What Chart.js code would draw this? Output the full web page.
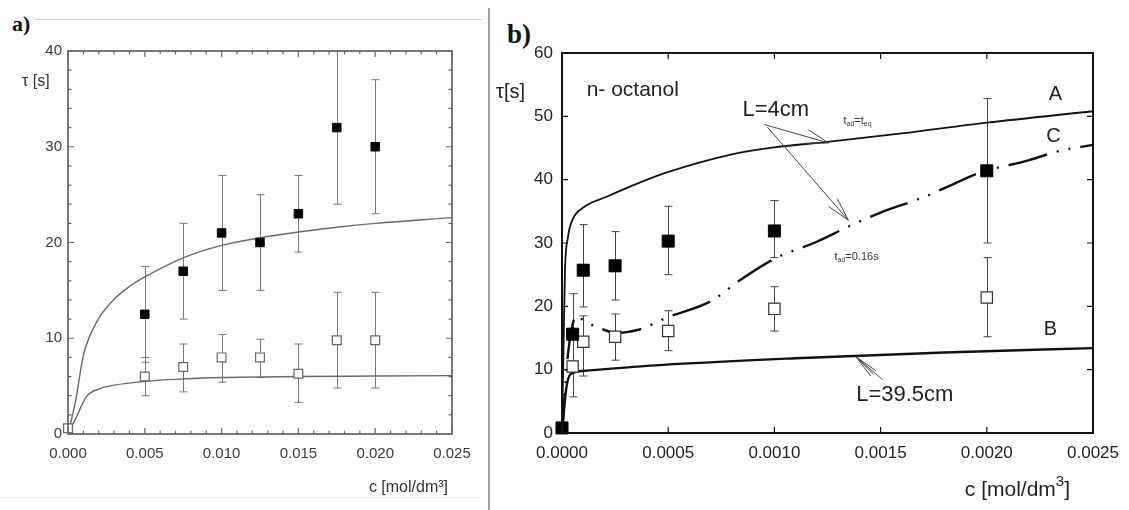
<!DOCTYPE html>
<html>
<head>
<meta charset="utf-8">
<script src="https://cdn.jsdelivr.net/npm/chart.js@4"></script>
<style>
  body { margin: 0; background: #fff; width: 1129px; height: 510px; overflow: hidden; position: relative; }
  canvas { position: absolute; top: 0; }
  #chartA { left: 0; }
  #chartB { left: 490px; }
  .panel { position: absolute; font-family: "Liberation Serif", "Times New Roman", serif; font-weight: bold; color: #111; line-height: 1; }
  .rule { position: absolute; }
</style>
</head>
<body>
<div class="rule" style="left:35px;top:19px;width:447px;height:1px;background:#d0d0d0"></div>
<div class="rule" style="left:0;top:497px;width:482px;height:1px;background:#eeeeee"></div>
<div class="rule" style="left:488px;top:8px;width:2px;height:502px;background:#a0a0a0"></div>
<div class="panel" style="left:12px;top:13px;font-size:22px">a)</div>
<div class="panel" style="left:507px;top:21px;font-size:27px">b)</div>
<canvas id="chartA" width="487" height="510"></canvas>
<canvas id="chartB" width="639" height="510"></canvas>
<script>
// ---------- panel a ----------
const concA = [0.005, 0.0075, 0.010, 0.0125, 0.015, 0.0175, 0.020];
const tauFilledA = [12.5, 17, 21, 20, 23, 32, 30];
const lowFilledA = [7.5, 12, 15, 15, 19, 24, 23];
const highFilledA = [17.5, 22, 27, 25, 27, 40, 37];

const concOpenA = [0, 0.005, 0.0075, 0.010, 0.0125, 0.015, 0.0175, 0.020];
const tauOpenA = [0.6, 6, 7, 8, 8, 6.3, 9.8, 9.8];
const lowOpenA = [0.6, 4, 4.4, 5.4, 5.9, 3.3, 4.8, 4.8];
const highOpenA = [0.6, 8, 9.4, 10.4, 9.9, 9.4, 14.8, 14.8];

const concUpperA = [0, 0.0005, 0.001, 0.0018, 0.0029, 0.004, 0.005, 0.0075, 0.010, 0.0125, 0.015, 0.0175, 0.020, 0.025];
const tauUpperA = [0, 3.5, 8.2, 11.5, 13.9, 15.4, 16.4, 18.4, 19.7, 20.5, 21.1, 21.6, 22.0, 22.6];
const concLowerA = [0, 0.0005, 0.0012, 0.002, 0.003, 0.005, 0.0075, 0.010, 0.015, 0.020, 0.025];
const tauLowerA = [0, 1.6, 3.9, 4.7, 5.1, 5.5, 5.75, 5.9, 6.0, 6.05, 6.1];

const xMajorA = [0, 0.005, 0.010, 0.015, 0.020, 0.025];
const xMinorA = [0.001, 0.002, 0.003, 0.004, 0.006, 0.007, 0.008, 0.009, 0.011, 0.012, 0.013, 0.014,
                 0.016, 0.017, 0.018, 0.019, 0.021, 0.022, 0.023, 0.024];
const yMajorA = [0, 10, 20, 30, 40];
const yMinorA = [2, 4, 6, 8, 12, 14, 16, 18, 22, 24, 26, 28, 32, 34, 36, 38];

// ---------- panel b ----------
const concFilledB = [0, 0.00005, 0.0001, 0.00025, 0.0005, 0.001, 0.002];
const tauFilledB = [0.8, 15.6, 25.7, 26.4, 30.3, 31.9, 41.4];
const lowFilledB = [0.8, 15.6, 19.9, 21, 25, 27.7, 30];
const highFilledB = [0.8, 15.6, 32.9, 31.8, 35.8, 36.7, 52.8];

const concOpenB = [0.00005, 0.0001, 0.00025, 0.0005, 0.001, 0.002];
const tauOpenB = [10.5, 14.4, 15.2, 16.1, 19.6, 21.4];
const lowOpenB = [5.7, 9, 11.5, 13, 16.1, 15.2];
const highOpenB = [22, 18.5, 18.8, 19.3, 23.1, 27.7];

const concCurveA = [0, 0.000008, 0.000014, 0.000028, 0.00005, 0.0001, 0.00021, 0.00032, 0.00049, 0.0008, 0.001, 0.00126, 0.0016, 0.002, 0.0025];
const tauCurveA = [0, 15, 25.6, 30.9, 33.7, 35.6, 37.3, 38.9, 41.1, 44.0, 45.1, 46.0, 47.3, 49.0, 50.8];
const concCurveB = [0, 0.00002, 0.00004, 0.0001, 0.0004, 0.0011, 0.0018, 0.0025];
const tauCurveB = [0, 7, 9.3, 9.8, 10.6, 11.8, 12.7, 13.4];
const concCurveC = [0, 0.00003, 0.00007, 0.0001, 0.00016, 0.00026, 0.00036, 0.0005, 0.0007, 0.00085, 0.001, 0.0012,
                    0.00135, 0.0015, 0.0017, 0.00183, 0.00196, 0.0022, 0.00235, 0.0025];
const tauCurveC = [0, 13, 18.5, 17.8, 16.8, 15.8, 16.3, 18.3, 20.8, 24.4, 27.5, 30.2, 32.6, 34.8, 37.2, 39.1, 41, 43.1, 44.6, 45.5];

const xMajorB = [0, 0.0005, 0.0010, 0.0015, 0.0020, 0.0025];
const yMajorB = [0, 10, 20, 30, 40, 50, 60];

const pts = (xs, ys) => xs.map((x, i) => ({x: x, y: ys[i]}));

Chart.defaults.font.family = '"Liberation Sans", Arial, Helvetica, sans-serif';

// draws vertical error bars from errLow / errHigh
const errorBars = {
  id: 'errorBars',
  beforeDatasetsDraw(chart) {
    const {ctx, scales: {x, y}} = chart;
    ctx.save();
    chart.data.datasets.forEach(ds => {
      if (!ds.errLow) return;
      ctx.strokeStyle = ds.errColor;
      ctx.lineWidth = 1;
      ds.data.forEach((p, i) => {
        const px = Math.round(x.getPixelForValue(p.x)) + 0.5;
        const y1 = y.getPixelForValue(ds.errLow[i]);
        const y2 = y.getPixelForValue(ds.errHigh[i]);
        if (Math.abs(y1 - y2) < 1) return;
        ctx.beginPath();
        ctx.moveTo(px, y1); ctx.lineTo(px, y2);
        ctx.moveTo(px - ds.capHalf, y1); ctx.lineTo(px + ds.capHalf, y1);
        if (ds.errHigh[i] < y.max) { ctx.moveTo(px - ds.capHalf, y2); ctx.lineTo(px + ds.capHalf, y2); }
        ctx.stroke();
      });
    });
    ctx.restore();
  }
};

// box around the plot and inward tick marks on all four sides
const frameTicks = {
  id: 'frameTicks',
  afterDatasetsDraw(chart, args, o) {
    const {ctx, chartArea: a, scales: {x, y}} = chart;
    ctx.save();
    ctx.strokeStyle = o.color;
    ctx.lineWidth = o.tickWidth;
    ctx.beginPath();
    const xt = (vals, len) => vals.forEach(v => {
      const px = x.getPixelForValue(v);
      ctx.moveTo(px, a.bottom); ctx.lineTo(px, a.bottom - len);
      ctx.moveTo(px, a.top); ctx.lineTo(px, a.top + len);
    });
    const yt = (vals, len) => vals.forEach(v => {
      const py = y.getPixelForValue(v);
      ctx.moveTo(a.left, py); ctx.lineTo(a.left + len, py);
      ctx.moveTo(a.right, py); ctx.lineTo(a.right - len, py);
    });
    xt(o.xMajor, o.majorLen); xt(o.xMinor || [], o.minorLen);
    yt(o.yMajor, o.majorLen); yt(o.yMinor || [], o.minorLen);
    ctx.stroke();
    ctx.lineWidth = o.width;
    ctx.strokeRect(a.left, a.top, a.right - a.left, a.bottom - a.top);
    ctx.restore();
  }
};

// rich text pieces: [text, size, dy]
function drawRich(ctx, parts, x, y, align, color) {
  ctx.fillStyle = color;
  ctx.textBaseline = 'middle';
  ctx.textAlign = 'left';
  let w = 0;
  parts.forEach(p => { ctx.font = p[1] + 'px "Liberation Sans", Arial, sans-serif'; w += ctx.measureText(p[0]).width; });
  let cx = align === 'right' ? x - w : (align === 'center' ? x - w / 2 : x);
  parts.forEach(p => {
    ctx.font = p[1] + 'px "Liberation Sans", Arial, sans-serif';
    ctx.fillText(p[0], cx, y + (p[2] || 0));
    cx += ctx.measureText(p[0]).width;
  });
}

// texts placed in data units, axis titles relative to the plot box, arrows in data units
const notes = {
  id: 'notes',
  afterDraw(chart, args, o) {
    const {ctx, chartArea: a, scales: {x, y}} = chart;
    ctx.save();
    (o.titles || []).forEach(t => {
      const px = t.side === 'right' ? a.right + t.dx : a.left + t.dx;
      const py = t.base === 'bottom' ? a.bottom + t.dy : a.top + t.dy;
      drawRich(ctx, t.parts, px, py, t.align, t.color);
    });
    (o.texts || []).forEach(t => {
      drawRich(ctx, t.parts, x.getPixelForValue(t.x), y.getPixelForValue(t.y), t.align, t.color);
    });
    ctx.strokeStyle = '#444';
    ctx.lineWidth = 1;
    (o.arrows || []).forEach(ar => {
      const x1 = x.getPixelForValue(ar.from[0]), y1 = y.getPixelForValue(ar.from[1]);
      const x2 = x.getPixelForValue(ar.to[0]), y2 = y.getPixelForValue(ar.to[1]);
      const ang = Math.atan2(y1 - y2, x1 - x2);
      ctx.beginPath();
      ctx.moveTo(x1, y1); ctx.lineTo(x2, y2);
      ar.head.forEach(d => {
        const t = ang + d * Math.PI / 180;
        ctx.moveTo(x2, y2); ctx.lineTo(x2 + 24 * Math.cos(t), y2 + 24 * Math.sin(t));
      });
      ctx.stroke();
    });
    ctx.restore();
  }
};

function axes(xmin, xmax, xstep, digits, ymin, ymax, ystep, size, color, xpad, ypad, xh, yw) {
  return {
    x: { type: 'linear', min: xmin, max: xmax,
         ticks: { stepSize: xstep, callback: v => v.toFixed(digits), font: { size: size }, color: color, padding: xpad, maxRotation: 0, autoSkip: false },
         grid: { display: false, drawTicks: false }, border: { display: false }, afterFit(s) { s.height = xh; } },
    y: { type: 'linear', min: ymin, max: ymax,
         ticks: { stepSize: ystep, font: { size: size }, color: color, padding: ypad },
         grid: { display: false, drawTicks: false }, border: { display: false }, afterFit(s) { s.width = yw; } }
  };
}

new Chart(document.getElementById('chartA'), {
  type: 'scatter',
  data: {
    datasets: [
      { data: pts(concA, tauFilledA), errLow: lowFilledA, errHigh: highFilledA, errColor: '#777', capHalf: 4,
        pointStyle: 'rect', pointRadius: 6, backgroundColor: '#000', borderColor: '#000', borderWidth: 1, clip: false },
      { data: pts(concOpenA, tauOpenA), errLow: lowOpenA, errHigh: highOpenA, errColor: '#777', capHalf: 4,
        pointStyle: 'rect', pointRadius: 6.2, backgroundColor: '#fff', borderColor: '#666', borderWidth: 1.2, clip: false },
      { data: pts(concUpperA, tauUpperA), showLine: true, pointRadius: 0, borderColor: '#6a6a6a', borderWidth: 1.4, cubicInterpolationMode: 'monotone' },
      { data: pts(concLowerA, tauLowerA), showLine: true, pointRadius: 0, borderColor: '#6a6a6a', borderWidth: 1.4, cubicInterpolationMode: 'monotone' }
    ]
  },
  options: {
    responsive: false, animation: false, events: [],
    layout: { padding: { left: 0, top: 51, right: 35, bottom: 30 } },
    scales: axes(0, 0.025, 0.005, 3, 0, 40, 10, 15, '#3a3a3a', 11, 6, 46, 68),
    plugins: {
      legend: { display: false }, tooltip: { enabled: false },
      frameTicks: { color: '#6a6a6a', width: 1.8, tickWidth: 1.2, majorLen: 6, minorLen: 3.5,
                    xMajor: xMajorA, xMinor: xMinorA, yMajor: yMajorA, yMinor: yMinorA },
      notes: {
        titles: [
          { parts: [['τ [s]', 16]], side: 'left', dx: -46, base: 'top', dy: 31, align: 'left', color: '#333' },
          { parts: [['c [mol/dm', 16], ['³', 16, -1], [']', 16]], side: 'right', dx: -4, base: 'bottom', dy: 54, align: 'right', color: '#333' }
        ]
      }
    }
  },
  plugins: [errorBars, frameTicks, notes]
});

new Chart(document.getElementById('chartB'), {
  type: 'scatter',
  data: {
    datasets: [
      { data: pts(concFilledB, tauFilledB), errLow: lowFilledB, errHigh: highFilledB, errColor: '#444', capHalf: 4,
        pointStyle: 'rect', pointRadius: 8.5, backgroundColor: '#000', borderColor: '#000', borderWidth: 1, clip: false },
      { data: pts(concOpenB, tauOpenB), errLow: lowOpenB, errHigh: highOpenB, errColor: '#444', capHalf: 4,
        pointStyle: 'rect', pointRadius: 8, backgroundColor: '#fff', borderColor: '#333', borderWidth: 1.2, clip: false },
      { data: pts(concCurveA, tauCurveA), showLine: true, pointRadius: 0, borderColor: '#111', borderWidth: 1.8, cubicInterpolationMode: 'monotone' },
      { data: pts(concCurveB, tauCurveB), showLine: true, pointRadius: 0, borderColor: '#111', borderWidth: 2.4, cubicInterpolationMode: 'monotone' },
      { data: pts(concCurveC, tauCurveC), showLine: true, pointRadius: 0, borderColor: '#111', borderWidth: 2.4,
        borderDash: [40, 10, 2, 10, 2, 10], cubicInterpolationMode: 'monotone' }
    ]
  },
  options: {
    responsive: false, animation: false, events: [],
    layout: { padding: { left: 0, top: 53, right: 29, bottom: 30 } },
    scales: axes(0, 0.0025, 0.0005, 4, 0, 60, 10, 17, '#222', 10, 9, 47, 72),
    plugins: {
      legend: { display: false }, tooltip: { enabled: false },
      frameTicks: { color: '#111', width: 2, tickWidth: 1.2, majorLen: 6, minorLen: 0,
                    xMajor: xMajorB, yMajor: yMajorB },
      notes: {
        titles: [
          { parts: [['τ[s]', 20]], side: 'left', dx: -66, base: 'top', dy: 39, align: 'left', color: '#222' },
          { parts: [['c [mol/dm', 21], ['3', 15, -8], [']', 21]], side: 'right', dx: -23, base: 'bottom', dy: 57, align: 'right', color: '#222' }
        ],
        texts: [
          { parts: [['n- octanol', 21]], x: 0.000116, y: 54.2, align: 'left', color: '#222' },
          { parts: [['L=4cm', 22]], x: 0.00085, y: 51, align: 'left', color: '#222' },
          { parts: [['t', 11], ['ad', 7, 3], ['=t', 11], ['eq', 7, 3]], x: 0.001325, y: 49.2, align: 'left', color: '#333' },
          { parts: [['t', 11], ['ad', 7, 3], ['=0.16s', 11]], x: 0.001283, y: 27.8, align: 'left', color: '#333' },
          { parts: [['A', 20]], x: 0.002323, y: 53.4, align: 'center', color: '#222' },
          { parts: [['C', 20]], x: 0.002314, y: 46.8, align: 'center', color: '#222' },
          { parts: [['B', 20]], x: 0.0023, y: 16.4, align: 'center', color: '#222' },
          { parts: [['L=39.5cm', 22]], x: 0.001385, y: 6.0, align: 'left', color: '#222' }
        ],
        arrows: [
          { from: [0.000953, 48.7], to: [0.001255, 45.8], head: [17, -17] },
          { from: [0.000967, 48.3], to: [0.001348, 33.6], head: [14, -14] },
          { from: [0.00151, 8.4], to: [0.001385, 12.0], head: [12, 4, -6] }
        ]
      }
    }
  },
  plugins: [errorBars, frameTicks, notes]
});
</script>
</body>
</html>
